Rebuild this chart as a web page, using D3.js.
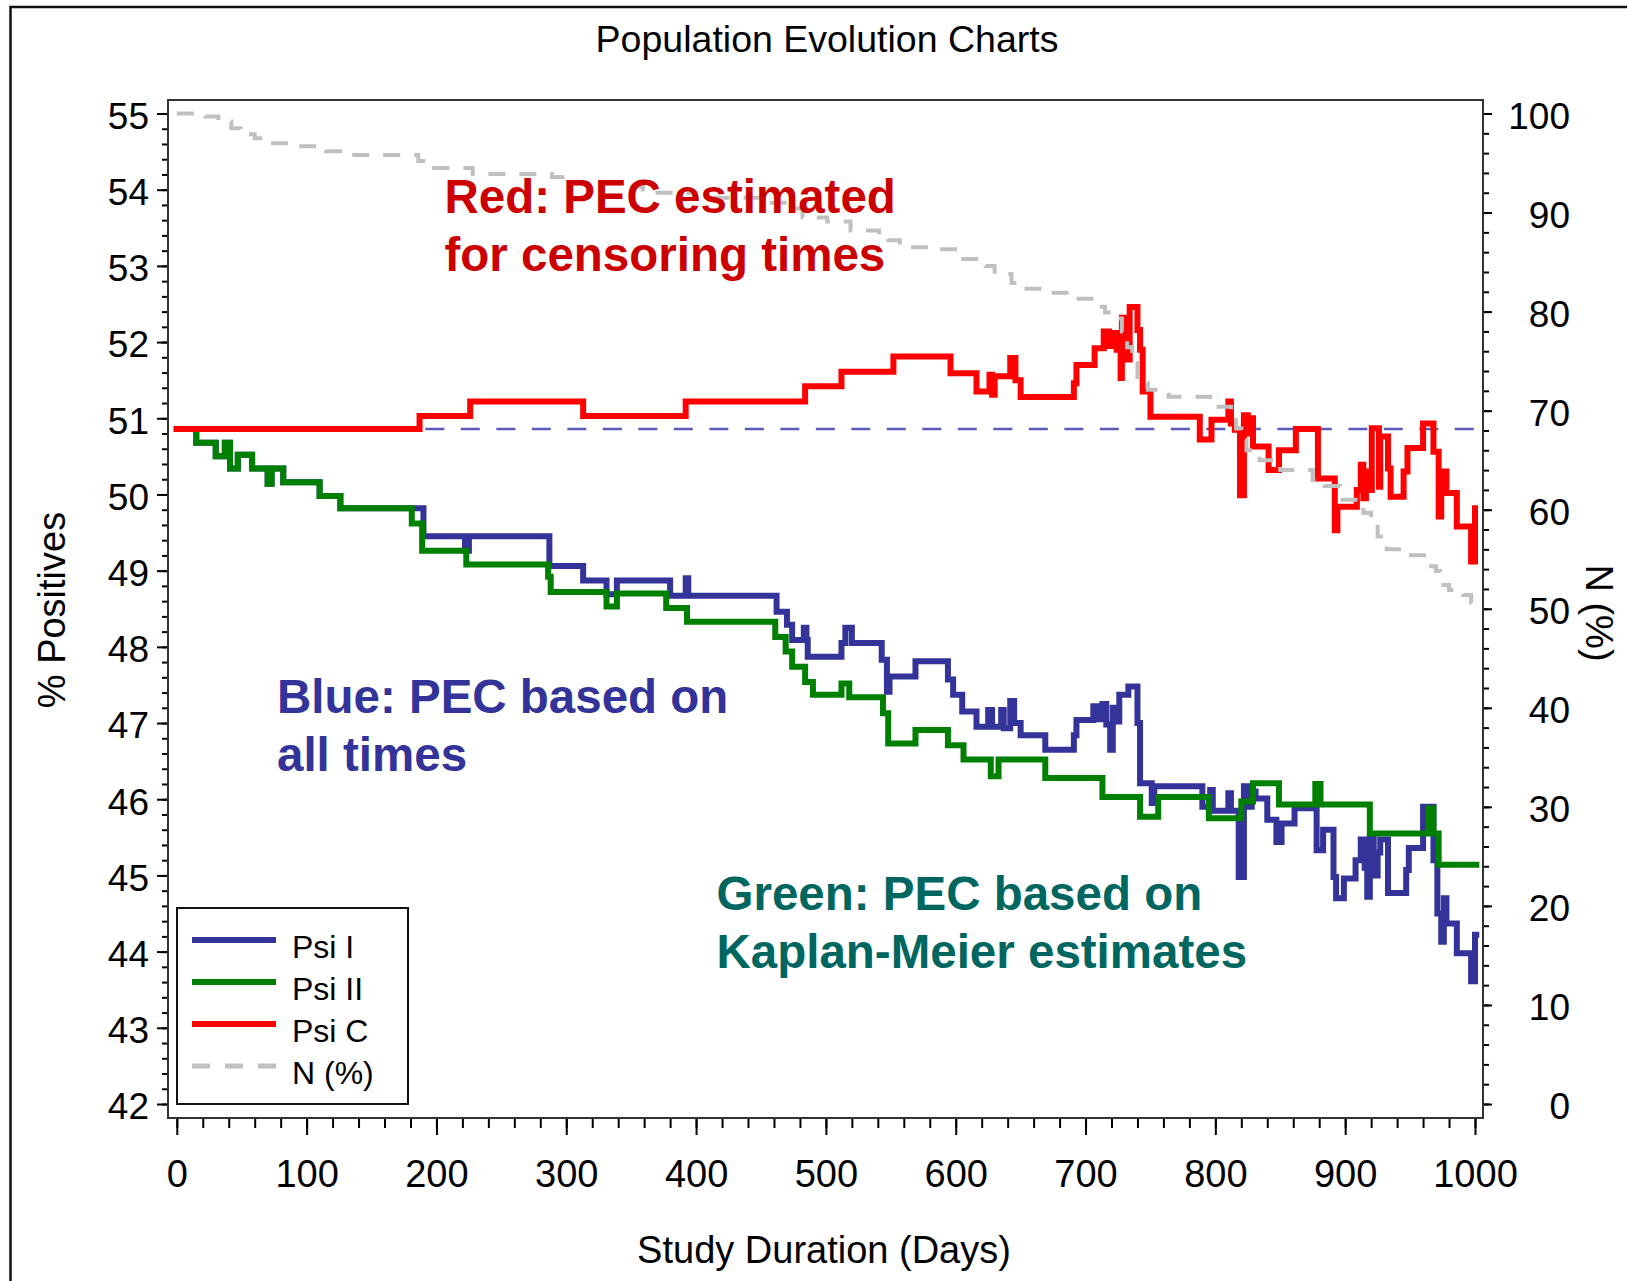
<!DOCTYPE html>
<html><head><meta charset="utf-8">
<script src="https://cdn.jsdelivr.net/npm/d3@7"></script>
<style>
body{margin:0;background:#fff}
text{font-family:"Liberation Sans",Arial,Helvetica,sans-serif}
</style>
</head><body>
<svg id="c" width="1627" height="1281"></svg>
<script>
// ---------- DATA (day, value) ----------
const chartTitle = "Population Evolution Charts";
const xTitle = "Study Duration (Days)";
const yLeftTitle = "% Positives";
const yRightTitle = "N (%)";
const xTicks = [0,100,200,300,400,500,600,700,800,900,1000];
const yLeftTicks = [42,43,44,45,46,47,48,49,50,51,52,53,54,55];
const yRightTicks = [0,10,20,30,40,50,60,70,80,90,100];
const refLevel = 50.86;
const seriesNames = ["Psi I","Psi II","Psi C","N (%)"];

const psiI = [[0,50.86],[15,50.68],[30,50.50],[37,50.68],[41,50.34],[47,50.52],[58,50.34],[70,50.14],[73,50.34],[82,50.16],[110,49.98],[126,49.82],[190,49.45],[222,49.26],[225,49.45],[287,49.06],[313,48.87],[331,48.69],[339,48.87],[380,48.67],[392,48.9],[394,48.67],[462,48.46],[470,48.29],[474,48.09],[483,48.25],[485,48.09],[486,47.87],[512,48.05],[515,48.25],[520,48.05],[543,47.83],[547,47.41],[549,47.61],[569,47.81],[594,47.57],[598,47.37],[605,47.15],[616,46.95],[625,47.17],[628,46.95],[635,47.17],[637,46.93],[642,47.29],[645,47.0],[650,46.84],[669,46.65],[691,46.84],[693,47.04],[706,47.22],[710,47.05],[713,47.25],[716,46.98],[719,46.65],[721,47.2],[724,47.02],[726,47.37],[733,47.48],[740,47.0],[742,46.21],[751,45.95],[753,46.17],[790,45.90],[796,46.12],[798,45.85],[810,46.08],[812,45.85],[818,44.98],[822,46.17],[825,45.9],[828,46.1],[831,46.01],[840,45.73],[847,45.44],[851,45.68],[861,45.88],[878,45.33],[883,45.60],[891,44.98],[893,44.70],[899,44.96],[908,45.20],[912,45.47],[915,45.1],[917,44.72],[919,45.5],[922,45.0],[925,45.3],[927,45.47],[933,44.77],[947,45.07],[949,45.36],[960,45.90],[968,45.20],[971,44.50],[974,44.13],[976,44.7],[978,44.37],[986,43.98],[997,43.61],[1000,44.22],[1001,44.22]];

const psiII = [[0,50.86],[15,50.68],[30,50.50],[37,50.68],[41,50.34],[47,50.52],[58,50.34],[70,50.14],[73,50.34],[82,50.16],[110,49.98],[126,49.82],[181,49.62],[189,49.26],[223,49.08],[286,48.92],[288,48.72],[331,48.53],[339,48.70],[377,48.51],[393,48.33],[461,48.13],[469,47.94],[474,47.74],[484,47.54],[490,47.37],[512,47.52],[518,47.34],[544,47.13],[548,46.73],[569,46.91],[594,46.71],[606,46.52],[627,46.30],[633,46.52],[669,46.28],[713,46.03],[742,45.77],[756,46.03],[795,45.75],[820,45.97],[829,46.21],[849,45.93],[877,46.2],[881,45.93],[919,45.55],[964,45.88],[968,45.55],[972,45.14],[1001,45.14]];

const psiC = [[0,50.86],[187,51.03],[226,51.22],[313,51.03],[392,51.22],[484,51.42],[512,51.61],[552,51.81],[596,51.59],[616,51.35],[626,51.57],[628,51.31],[630,51.55],[642,51.79],[646,51.5],[650,51.28],[691,51.46],[693,51.70],[707,51.92],[714,52.14],[718,51.95],[721,52.12],[724,51.9],[727,51.53],[728,52.32],[731,51.77],[734,52.46],[740,52.16],[742,51.9],[744,51.35],[750,51.02],[788,50.72],[797,50.98],[810,51.22],[812,50.93],[815,50.85],[819,49.99],[822,51.04],[825,50.8],[827,51.0],[829,50.63],[841,50.32],[849,50.58],[862,50.86],[879,50.21],[892,49.53],[894,49.84],[909,50.06],[912,50.39],[914,49.95],[916,50.3],[918,50.06],[920.5,50.87],[926,50.10],[927,50.76],[933,50.34],[935,49.97],[945,50.3],[948,50.61],[960,50.93],[968,50.56],[972,49.71],[974,50.3],[978,50.02],[986,49.58],[997,49.12],[1000,49.82]];

const nPct = [[0,100],[22,99.7],[32,99.2],[42,98.5],[49,97.9],[60,97.5],[70,97.0],[91,96.7],[115,96.2],[135,95.8],[186,95.2],[193,94.5],[228,93.9],[289,93.6],[299,93.0],[340,92.6],[359,92.0],[400,91.5],[449,91.0],[475,90.4],[482,89.5],[501,89.1],[519,88.2],[541,87.5],[548,87.2],[557,86.5],[582,86.3],[604,85.3],[623,84.6],[630,83.8],[643,82.9],[650,82.3],[669,81.9],[691,81.3],[708,80.5],[715,79.9],[724,79.3],[728,78.0],[732,76.4],[736,74.8],[740,73.4],[745,72.8],[748,72.1],[764,71.4],[796,70.4],[812,69.5],[816,68.2],[820,67.0],[824,66.0],[834,65.0],[850,64.0],[875,63.0],[884,62.4],[896,61.0],[914,59.7],[920,58.7],[925,57.3],[932,56.0],[946,55.4],[963,54.3],[970,53.8],[973,52.4],[980,51.9],[991,51.4],[997,50.6],[1000,50.5]];

// ---------- LAYOUT ----------
const svg = d3.select("#c");
const P = {l:168, t:100, r:1483, b:1118};
const x = d3.scaleLinear().domain([0,1000]).range([176.8,1475]);
const yL = d3.scaleLinear().domain([42,55]).range([1104,113.5]);
const yR = d3.scaleLinear().domain([0,100]).range([1104,113.5]);

const C = {blue:"#333399", green:"#008000", red:"#ff0000", gray:"#c0c0c0", ref:"#5a5ab8"};

svg.append("rect").attr("width",1627).attr("height",1281).attr("fill","#fff");
// outer frame (left + top)
svg.append("path").attr("d","M10.5,1281 V7 H1627").attr("fill","none").attr("stroke","#111").attr("stroke-width",2.5);

// title
svg.append("text").attr("x",827).attr("y",52).attr("text-anchor","middle")
  .attr("font-size",37.5).attr("fill","#000").text(chartTitle);

// clip
svg.append("clipPath").attr("id","pc").append("rect")
  .attr("x",P.l).attr("y",P.t).attr("width",P.r-P.l).attr("height",P.b-P.t);

// axes
function styleAxis(g){
  g.select(".domain").remove();
  g.selectAll(".tick line").attr("stroke","#000").attr("stroke-width",2);
  g.selectAll("text").attr("font-size",37).attr("fill","#000")
    .attr("font-family","'Liberation Sans',Arial,sans-serif");
}
const gLm = svg.append("g").attr("transform",`translate(${P.l},0)`)
  .call(d3.axisLeft(yL).tickValues(d3.range(42,55.001,0.2)).tickSize(6).tickFormat(""));
styleAxis(gLm);
const gL = svg.append("g").attr("transform",`translate(${P.l},0)`)
  .call(d3.axisLeft(yL).tickValues(yLeftTicks).tickSize(11).tickPadding(8).tickFormat(d3.format("d")));
styleAxis(gL); gL.selectAll("text").attr("dy","0.4em");

const gRm = svg.append("g").attr("transform",`translate(${P.r},0)`)
  .call(d3.axisRight(yR).tickValues(d3.range(0,100.001,2)).tickSize(6).tickFormat(""));
styleAxis(gRm);
const gR = svg.append("g").attr("transform",`translate(${P.r},0)`)
  .call(d3.axisRight(yR).tickValues(yRightTicks).tickSize(9).tickFormat(d3.format("d")));
styleAxis(gR); gR.selectAll("text").attr("text-anchor","end").attr("x",87).attr("dy","0.4em");

const gBm = svg.append("g").attr("transform",`translate(0,${P.b+1})`)
  .call(d3.axisBottom(x).tickValues(d3.range(0,1000.001,20)).tickSize(9).tickFormat(""));
styleAxis(gBm);
const gB = svg.append("g").attr("transform",`translate(0,${P.b+1})`)
  .call(d3.axisBottom(x).tickValues(xTicks).tickSize(16).tickFormat(d3.format("d")));
styleAxis(gB); gB.selectAll("text").attr("y",68).attr("dy",0).attr("font-size",38);

// axis titles
svg.append("text").attr("x",824).attr("y",1263).attr("text-anchor","middle")
  .attr("font-size",38).text(xTitle);
svg.append("text").attr("transform","translate(65,610) rotate(-90)").attr("text-anchor","middle")
  .attr("font-size",38).text(yLeftTitle);
svg.append("text").attr("transform","translate(1586,613) rotate(90)").attr("text-anchor","middle")
  .attr("font-size",38).text(yRightTitle);

// plot frame
svg.append("rect").attr("x",P.l).attr("y",P.t).attr("width",P.r-P.l).attr("height",P.b-P.t)
  .attr("fill","none").attr("stroke","#333").attr("stroke-width",2);

const plot = svg.append("g").attr("clip-path","url(#pc)");
// reference line
plot.append("line").attr("x1",x(0)).attr("x2",x(1000)).attr("y1",yL(refLevel)).attr("y2",yL(refLevel))
  .attr("stroke",C.ref).attr("stroke-width",2.5).attr("stroke-dasharray","19,16.5");

const lineL = d3.line().x(d=>x(d[0])).y(d=>yL(d[1])).curve(d3.curveStepAfter);
const lineR = d3.line().x(d=>x(d[0])).y(d=>yR(d[1])).curve(d3.curveStepAfter);
[[psiI,C.blue],[psiII,C.green],[psiC,C.red]].forEach(([data,col])=>{
  plot.append("path").attr("d",lineL(data)).attr("fill","none").attr("stroke",col)
    .attr("stroke-width",6).attr("stroke-linejoin","miter").attr("stroke-linecap","square");
});
plot.append("path").attr("d",lineR(nPct)).attr("fill","none").attr("stroke",C.gray)
  .attr("stroke-width",4).attr("stroke-dasharray","17,14");

// annotations
const ann = [
  {t:["Red: PEC estimated","for censoring times"], x:444.5, y:213, c:"#cc0000"},
  {t:["Blue: PEC based on","all times"], x:277, y:713, c:"#333399"},
  {t:["Green: PEC based on","Kaplan-Meier estimates"], x:716.5, y:910, c:"#006660"}
];
ann.forEach(a=>{
  a.t.forEach((s,i)=>{
    svg.append("text").attr("x",a.x).attr("y",a.y+i*57.5).attr("font-size",47.5)
      .attr("font-weight","bold").attr("fill",a.c).text(s);
  });
});

// legend
const lg = svg.append("g");
lg.append("rect").attr("x",177).attr("y",908).attr("width",231).attr("height",196)
  .attr("fill","#fff").attr("stroke","#111").attr("stroke-width",2);
const legCols = [C.blue,C.green,C.red,C.gray];
seriesNames.forEach((n,i)=>{
  const yy = 940 + i*42;
  lg.append("line").attr("x1",192).attr("x2",276).attr("y1",yy).attr("y2",yy)
    .attr("stroke",legCols[i]).attr("stroke-width",i===3?5:6)
    .attr("stroke-dasharray", i===3 ? "18,15" : null);
  lg.append("text").attr("x",292).attr("y",yy+18).attr("font-size",32).attr("fill","#000").text(n);
});
</script>
</body></html>
